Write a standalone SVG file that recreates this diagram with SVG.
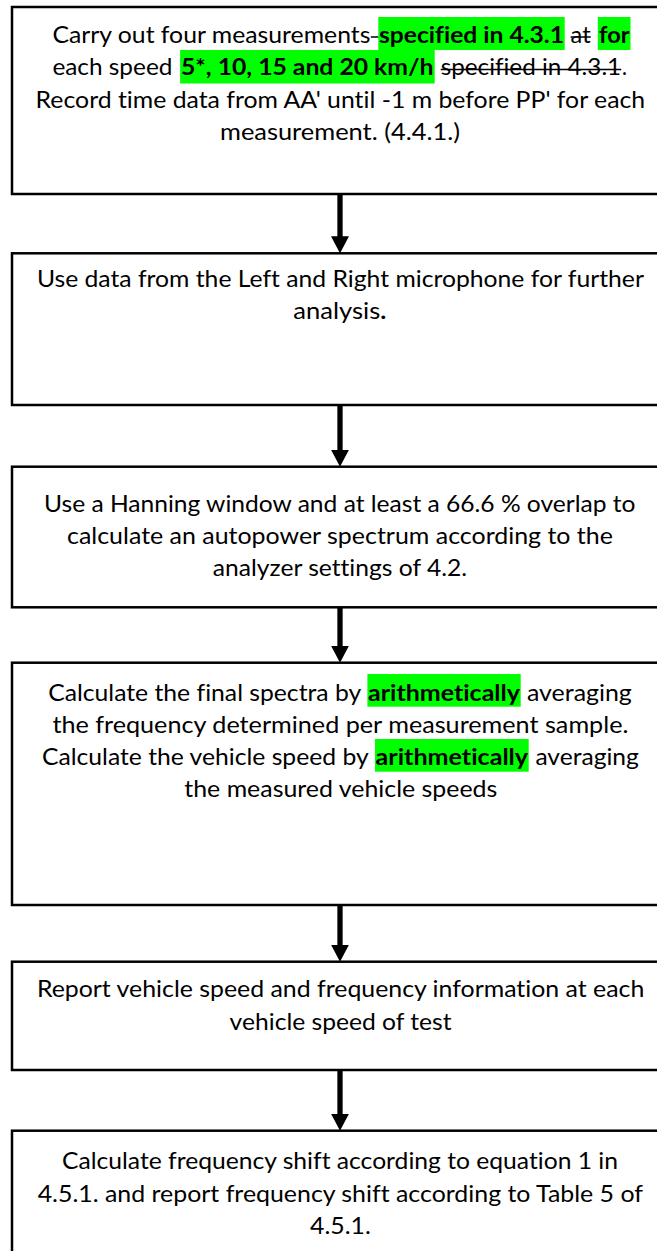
<svg xmlns="http://www.w3.org/2000/svg" width="657" height="1251" viewBox="0 0 657 1251">
<style>
.box{fill:#fff;stroke:#000;stroke-width:2.5}
text{font-family:Lato,"Open Sans","Liberation Sans",sans-serif;font-size:22.5px;fill:#000;font-variant-ligatures:none}
.b{font-weight:bold}
.hl{fill:#00ff00}
.st{stroke:#000;stroke-width:1.5}
.conn{stroke:#000;stroke-width:5.3;fill:none}
</style>
<defs>
<marker id="ah" viewBox="0 0 17 18" refX="1" refY="9" markerWidth="17" markerHeight="18" markerUnits="userSpaceOnUse" orient="auto">
<path d="M0,0 L17,9 L0,18 Z" fill="#000"/>
</marker>
</defs>
<rect width="657" height="1251" fill="#fff"/>

<g id="connectors">
<line class="conn" x1="340" y1="195" x2="340" y2="237.3" marker-end="url(#ah)"/>
<line class="conn" x1="340" y1="406" x2="340" y2="450.7" marker-end="url(#ah)"/>
<line class="conn" x1="340" y1="608" x2="340" y2="646.7" marker-end="url(#ah)"/>
<line class="conn" x1="340" y1="906" x2="340" y2="945.7" marker-end="url(#ah)"/>
<line class="conn" x1="340" y1="1071" x2="340" y2="1114.7" marker-end="url(#ah)"/>
</g>

<g id="node1">
<rect class="box" x="12" y="7" width="700" height="187"/>
<rect class="hl" x="378.3" y="17" width="186.4" height="33"/>
<rect class="hl" x="597.8" y="17" width="32.7" height="33"/>
<rect class="hl" x="180.1" y="50" width="254.6" height="33.5"/>
<text x="52.4" y="42.5" textLength="318" lengthAdjust="spacingAndGlyphs">Carry out four measurements</text>
<line class="st" x1="370.8" y1="37" x2="378.3" y2="37"/>
<text class="b" x="379" y="42.5" textLength="185" lengthAdjust="spacingAndGlyphs">specified in 4.3.1</text>
<text x="570.6" y="42.5" textLength="20" lengthAdjust="spacingAndGlyphs">at</text>
<line class="st" x1="570.6" y1="37" x2="590.7" y2="37"/>
<text class="b" x="599" y="42.5" textLength="30.5" lengthAdjust="spacingAndGlyphs">for</text>
<text x="52.4" y="75" textLength="120" lengthAdjust="spacingAndGlyphs">each speed</text>
<text class="b" x="181" y="75" textLength="252.5" lengthAdjust="spacingAndGlyphs">5*, 10, 15 and 20 km/h</text>
<text x="440.7" y="75" textLength="180.5" lengthAdjust="spacingAndGlyphs">specified in 4.3.1</text>
<line class="st" x1="440.7" y1="69.5" x2="621.2" y2="69.5"/>
<text x="622" y="75" textLength="5" lengthAdjust="spacingAndGlyphs">.</text>
<text x="35.6" y="107.5" textLength="609.6" lengthAdjust="spacingAndGlyphs">Record time data from AA' until -1 m before PP' for each</text>
<text x="220" y="140" textLength="240" lengthAdjust="spacingAndGlyphs">measurement. (4.4.1.)</text>
</g>

<g id="node2">
<rect class="box" x="12" y="253.3" width="700" height="151.7"/>
<text x="36.9" y="286.7" textLength="607" lengthAdjust="spacingAndGlyphs">Use data from the Left and Right microphone for further</text>
<text x="293.3" y="319.3" textLength="93" lengthAdjust="spacingAndGlyphs">analysis<tspan class="b">.</tspan></text>
</g>

<g id="node3">
<rect class="box" x="12" y="466.7" width="700" height="140.6"/>
<text x="44" y="511.7" textLength="591.5" lengthAdjust="spacingAndGlyphs">Use a Hanning window and at least a 66.6 % overlap to</text>
<text x="67" y="544" textLength="545.9" lengthAdjust="spacingAndGlyphs">calculate an autopower spectrum according to the</text>
<text x="212.8" y="576.3" textLength="254.3" lengthAdjust="spacingAndGlyphs">analyzer settings of 4.2.</text>
</g>

<g id="node4">
<rect class="box" x="12" y="662.7" width="700" height="242.3"/>
<rect class="hl" x="367.4" y="674" width="153.3" height="32.7"/>
<rect class="hl" x="375" y="739" width="153.7" height="32.7"/>
<text x="48.2" y="700.7" textLength="313" lengthAdjust="spacingAndGlyphs">Calculate the final spectra by</text>
<text class="b" x="368" y="700.7" textLength="152" lengthAdjust="spacingAndGlyphs">arithmetically</text>
<text x="527" y="700.7" textLength="104.8" lengthAdjust="spacingAndGlyphs">averaging</text>
<text x="52.4" y="732.5" textLength="576" lengthAdjust="spacingAndGlyphs">the frequency determined per measurement sample.</text>
<text x="41.9" y="765" textLength="326.8" lengthAdjust="spacingAndGlyphs">Calculate the vehicle speed by</text>
<text class="b" x="375.6" y="765" textLength="152.5" lengthAdjust="spacingAndGlyphs">arithmetically</text>
<text x="535.4" y="765" textLength="103.5" lengthAdjust="spacingAndGlyphs">averaging</text>
<text x="184.3" y="797" textLength="313" lengthAdjust="spacingAndGlyphs">the measured vehicle speeds</text>
</g>

<g id="node5">
<rect class="box" x="12" y="961.7" width="700" height="108.3"/>
<text x="36.9" y="997.3" textLength="607.4" lengthAdjust="spacingAndGlyphs">Report vehicle speed and frequency information at each</text>
<text x="229.6" y="1030" textLength="222" lengthAdjust="spacingAndGlyphs">vehicle speed of test</text>
</g>

<g id="node6">
<rect class="box" x="12" y="1130.7" width="700" height="200"/>
<text x="62" y="1169.3" textLength="556" lengthAdjust="spacingAndGlyphs">Calculate frequency shift according to equation 1 in</text>
<text x="37.7" y="1201.5" textLength="605.3" lengthAdjust="spacingAndGlyphs">4.5.1. and report frequency shift according to Table 5 of</text>
<text x="310" y="1233.5" textLength="60.8" lengthAdjust="spacingAndGlyphs">4.5.1.</text>
</g>
</svg>
